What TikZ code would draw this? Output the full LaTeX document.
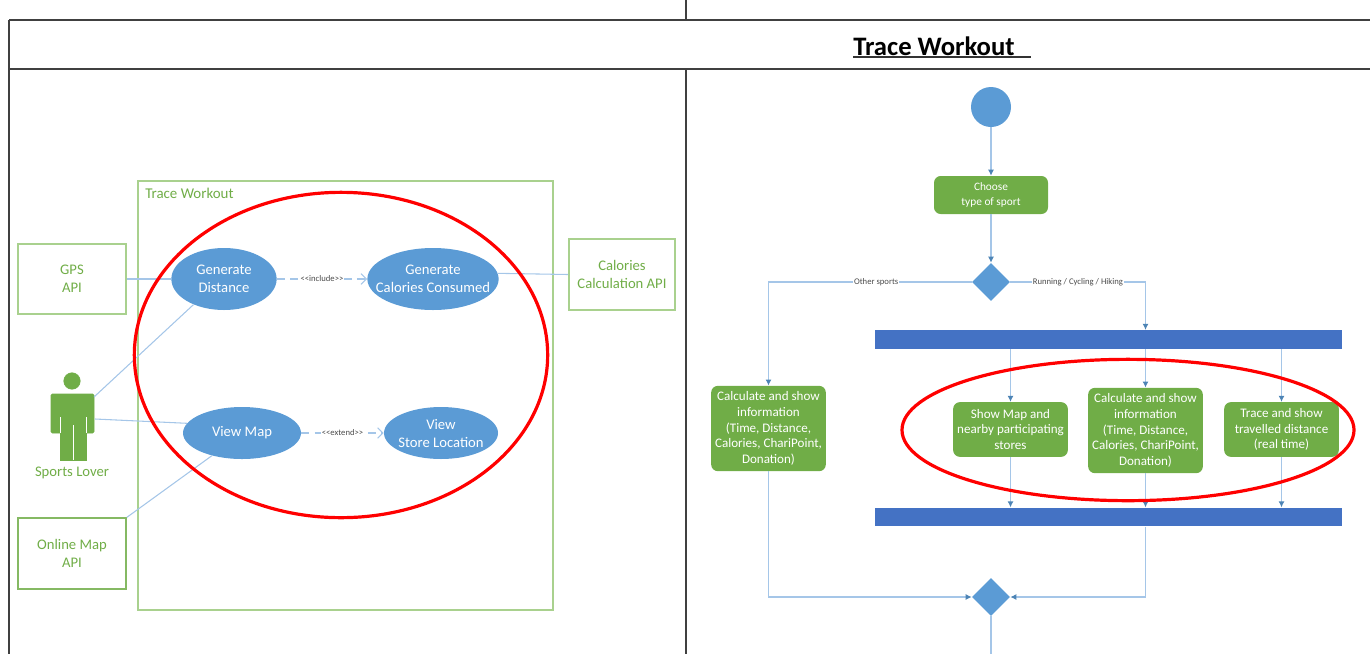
\documentclass[tikz,border=0pt]{standalone}
\usepackage{fontspec}
\setmainfont{Carlito}
\usetikzlibrary{shapes.geometric,arrows.meta}

\definecolor{umlblue}{HTML}{5B9BD5}
\definecolor{umlgreen}{HTML}{70AD47}
\definecolor{barblue}{HTML}{4472C4}
\definecolor{linkblue}{HTML}{A5C6E8}
\definecolor{boxgreen}{HTML}{A9D18E}

\tikzset{
    usecase/.style={ellipse, fill=umlblue, text=white, inner xsep=-8pt, inner ysep=0pt, align=center, font=\fontsize{11}{13.5}\selectfont},
    apibox/.style={rectangle, draw=boxgreen, line width=1.2pt, text=umlgreen, inner sep=0pt, align=center, font=\fontsize{11}{13.5}\selectfont},
    actionbox/.style={rectangle, rounded corners=5pt, fill=umlgreen, text=white, inner sep=0pt, align=center, font=\fontsize{9.8}{11.8}\selectfont},
    decision/.style={diamond, fill=umlblue, inner sep=0pt, minimum width=28.5pt, minimum height=28.5pt},
    forkbar/.style={rectangle, fill=barblue, inner sep=0pt, minimum width=350pt, minimum height=14pt},
    link/.style={linkblue, line width=0.8pt},
    flow/.style={linkblue, line width=1pt},
    flowarrow/.style={flow, -{Latex[length=4.5pt,width=4.5pt,color=umlblue!85!black]}},
    dashlink/.style={linkblue, line width=0.8pt, dash pattern=on 6pt off 4pt, -{Straight Barb[length=4pt,width=8pt]}},
    smalltext/.style={font=\fontsize{6.5}{7}\selectfont, text=black!70, fill=white, inner sep=0.5pt},
    circled/.style={red, line width=2.4pt},
    frameline/.style={black!75, line width=1pt}
}

\begin{document}
\begin{tikzpicture}[x=0.75pt, y=-0.75pt]
    \useasboundingbox (0,0) rectangle (1370,654);

    % table
    \draw[frameline] (9,20) -- (1370,20);
    \draw[frameline] (9,69) -- (1370,69);
    \draw[frameline] (9,20) -- (9,654);
    \draw[frameline] (686,0) -- (686,20);
    \draw[frameline] (686,69) -- (686,654);
    \node[font=\bfseries\fontsize{20}{22}\selectfont, inner sep=0pt, anchor=west] (title) at (853,46) {Trace Workout};
    \draw[black!80, line width=1.2pt] (853,57) -- (1031,57);

    % use case side
    \draw[boxgreen, line width=1.2pt] (138,181) rectangle (553,610);
    \node[text=umlgreen, anchor=west, inner sep=0pt, font=\fontsize{11.2}{13}\selectfont] (sysname) at (145,193) {Trace Workout};

    \node[apibox, minimum width=81pt, minimum height=52.5pt] (gps) at (72,279) {GPS\\API};
    \node[apibox, minimum width=79.5pt, minimum height=53pt] (calapi) at (622,274.5) {Calories\\Calculation API};
    \node[apibox, draw=umlgreen!85, minimum width=81pt, minimum height=53pt] (mapapi) at (72,553.5) {Online Map\\API};

    \node[usecase, minimum width=79pt, minimum height=46.5pt] (gendist) at (224,279) {Generate\\Distance};
    \node[usecase, minimum width=97.5pt, minimum height=46.5pt] (gencal) at (433,279) {Generate\\Calories Consumed};
    \node[usecase, minimum width=88.5pt, minimum height=39pt] (viewmap) at (242,433) {View Map};
    \node[usecase, minimum width=85.5pt, minimum height=39pt] (viewstore) at (441,433) {View\\Store Location};

    % actor
    \filldraw[umlgreen] (72,381) circle (6.2pt);
    \filldraw[umlgreen, rounded corners=1pt] (51,394) rectangle (94,433);
    \filldraw[umlgreen] (60,410) rectangle (86,460);
    \draw[white, line width=0.4pt] (60,417) -- (60,433);
    \draw[white, line width=0.4pt] (86,417) -- (86,433);
    \draw[white, line width=0.4pt] (73,425) -- (73,460);
    \coordinate (actortop) at (94,397);
    \coordinate (actormid) at (95,419);
    \node[text=umlgreen, inner sep=0pt, font=\fontsize{11}{13}\selectfont] (actor) at (72,473) {Sports Lover};

    \draw[link] (gps.east |- gendist.west) -- (gendist.west);
    \draw[link] (gencal.5) -- (calapi.west);
    \draw[link] (actortop) -- (gendist.220);
    \draw[link] (actormid) -- (viewmap.170);
    \draw[link] (mapapi.north east) -- (viewmap.217);

    \draw[dashlink] (gendist) -- node[smalltext] {{<}{<}include{>}{>}} (gencal);
    \draw[dashlink] (viewmap) -- node[smalltext] {{<}{<}extend{>}{>}} (viewstore);

    % activity side
    \node[circle, fill=umlblue, inner sep=0pt, minimum size=30pt] (start) at (991,107) {};
    \node[actionbox, font=\fontsize{8.5}{11.8}\selectfont, minimum width=85.5pt, minimum height=28.5pt] (choose) at (991,195) {Choose\\type of sport};
    \node[decision] (split) at (991,282) {};
    \node[forkbar] (forktop) at (1108.5,339.5) {};
    \node[forkbar] (forkbot) at (1108.5,517) {};
    \node[actionbox, minimum width=86pt, minimum height=64pt] (calcleft) at (768.5,428.5) {Calculate and show\\information\\(Time, Distance,\\Calories, ChariPoint,\\Donation)};
    \node[actionbox, minimum width=86pt, minimum height=41pt] (showmap) at (1010.5,429.5) {Show Map and\\nearby participating\\stores};
    \node[actionbox, minimum width=86pt, minimum height=64pt] (calcmid) at (1145.5,430.5) {Calculate and show\\information\\(Time, Distance,\\Calories, ChariPoint,\\Donation)};
    \node[actionbox, minimum width=86pt, minimum height=41pt] (trace) at (1281.5,429.5) {Trace and show\\travelled distance\\(real time)};
    \node[decision] (merge) at (991,597) {};
    \coordinate (endpt) at (991,654);

    \draw[flowarrow] (start) -- (choose);
    \draw[flowarrow] (choose) -- (split);
    \draw[flowarrow] (split.west) -| node[smalltext, pos=0.235] {Other sports} (calcleft.north);
    \draw[flowarrow] (split.east) -| node[smalltext, pos=0.25] {Running / Cycling / Hiking} (calcmid.north |- forktop.north);
    \draw[flowarrow] (showmap.north |- forktop.south) -- (showmap.north);
    \draw[flowarrow] (calcmid.north |- forktop.south) -- (calcmid.north);
    \draw[flowarrow] (trace.north |- forktop.south) -- (trace.north);
    \draw[flowarrow] (showmap.south) -- (showmap.south |- forkbot.north);
    \draw[flowarrow] (calcmid.south) -- (calcmid.south |- forkbot.north);
    \draw[flowarrow] (trace.south) -- (trace.south |- forkbot.north);
    \draw[flowarrow] (calcleft.south) |- (merge.west);
    \draw[flowarrow] (calcmid.south |- forkbot.south) |- (merge.east);
    \draw[flow] (merge.south) -- (endpt);

    % red marks
    \draw[circled] (341,355) ellipse (155pt and 122pt);
    \draw[circled] (1128,430) ellipse (169.5pt and 53pt);
\end{tikzpicture}
\end{document}
